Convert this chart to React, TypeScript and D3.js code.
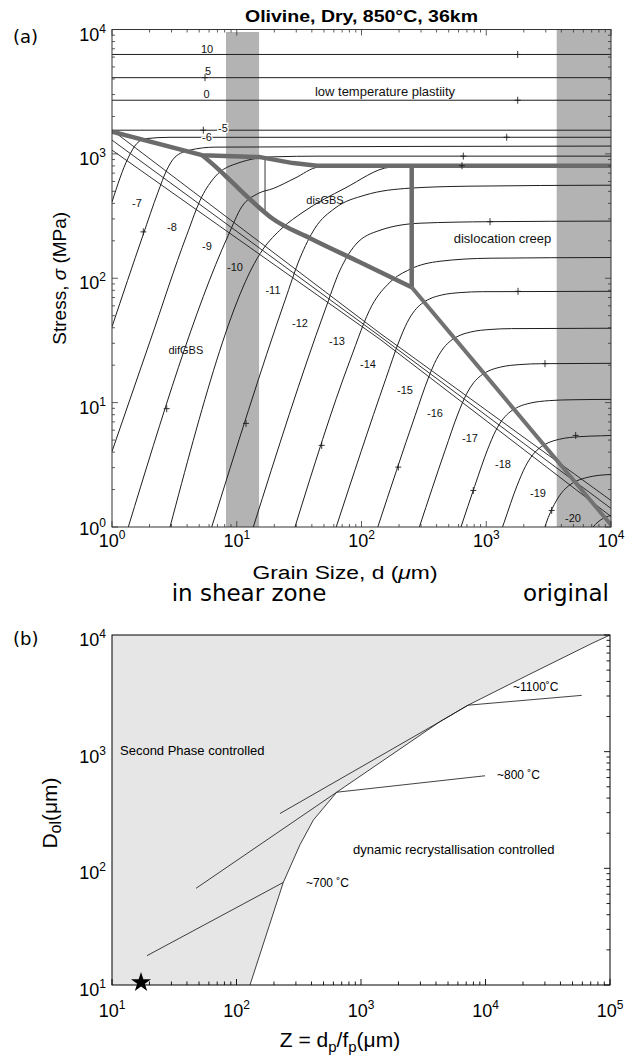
import React from 'react';
import * as d3 from 'd3';

type P = [number, number];

// ================= Panel (a) data =================
const titleA = 'Olivine, Dry, 850°C, 36km';
const decadesA = [1, 10, 100, 1000, 10000];

// low-temperature-plasticity contours (flat)
const ltpLevels = ['10', '5', '0', '-5'];
const ltpStress = [6300, 4100, 2700, 1550];

// strain-rate contours, [grain size µm, stress MPa]
const cM6: P[] = [[1, 411], [1.344, 924], [1.578, 1209], [1.873, 1327], [2.917, 1359], [10000, 1360]];
const cM7: P[] = [[1, 40.7], [1.772, 222], [2.337, 492], [2.745, 740], [3.199, 942], [4.22, 1072], [6.69, 1133], [10000, 1155]];
const cM8: P[] = [[1, 4.05], [2.017, 31.1], [3.97, 222], [5.24, 451], [6.69, 654], [10.23, 843], [19.5, 947], [46.5, 959], [10000, 959]];
const cM9: P[] = [[1.351, 1], [8.556, 222], [10.96, 375], [14.89, 481], [19.63, 527], [29.3, 638], [44.8, 782], [73.8, 804], [10000, 804]];
const cM10: P[] = [[2.917, 1], [16.23, 171], [23.05, 252.6], [33.97, 340], [73.8, 530], [169.2, 782], [294, 804], [10000, 804]];
const cM11: P[] = [[6.3, 1], [24.37, 66.5], [32.1, 145], [42.4, 253], [61.3, 366], [106.7, 466], [244.8, 530], [741, 550], [10000, 560]];
const cM12: P[] = [[13.57, 1], [50.97, 55.3], [67.2, 116], [88.7, 184], [140.7, 243], [294, 277], [1072, 285], [10000, 288]];
const cM13: P[] = [[29.3, 1], [80.9, 21.9], [121.4, 60.6], [169.2, 92.9], [244.8, 118.1], [425.9, 137], [1072, 144.9], [10000, 146.8]];
const cM14: P[] = [[62.7, 1], [157.1, 15.67], [200.3, 31.26], [232.6, 44.16], [266.9, 54.95], [302.9, 62.37], [353.2, 68.39], [438.4, 73.28], [625.4, 76.74], [930.4, 77.98], [10000, 78.52]];
const cM15: P[] = [[135.1, 1], [269.6, 7.907], [343.5, 15.78], [398.9, 22.28], [457.8, 27.73], [519.6, 31.48], [605.7, 34.51], [751.7, 36.98], [1072, 38.73], [1595, 39.36], [10000, 39.63]];
const cM16: P[] = [[291.1, 1], [467.7, 4.13], [596.2, 8.241], [692.1, 11.64], [794.3, 14.49], [901.8, 16.44], [1051, 18.03], [1305, 19.32], [1861, 20.23], [2769, 20.56], [10000, 20.7]];
const cM17: P[] = [[627.2, 1], [806.5, 2.118], [1028, 4.227], [1193, 5.97], [1369, 7.43], [1555, 8.433], [1812, 9.247], [2250, 9.908], [3210, 10.38], [4774, 10.54], [10000, 10.62]];
const cM18: P[] = [[1351, 1], [1390, 1.086], [1772, 2.168], [2058, 3.062], [2362, 3.811], [2681, 4.325], [3125, 4.742], [3879, 5.082], [5534, 5.321], [8231, 5.408], [10000, 5.445]];
const cM19: P[] = [[2951, 1], [3022, 1.074], [3510, 1.517], [4027, 1.888], [4573, 2.143], [5328, 2.35], [6614, 2.518], [9437, 2.636], [10000, 2.642]];
const cM20: P[] = [[7172, 1], [7882, 1.099], [9189, 1.205], [10000, 1.239]];
const contoursA = [cM6, cM7, cM8, cM9, cM10, cM11, cM12, cM13, cM14, cM15, cM16, cM17, cM18, cM19, cM20];

// mechanism boundaries (thick grey)
const thickLTP: P[] = [[1, 1511], [5.265, 977], [15.36, 942], [28.24, 843], [43.99, 804], [10000, 804]];
const thickGBS: P[] = [[5.265, 977], [6.69, 797], [8.83, 615], [12.77, 432], [19.17, 304], [38.66, 209.8], [97.3, 134.5], [252.6, 84.7]];
const thickVert: P[] = [[252.6, 84.7], [252.6, 804]];
const thickDisl: P[] = [[252.6, 84.7], [10000, 1.04]];
const thinVert: P[] = [[16.85, 940], [16.85, 340]];

// three thin field-boundary lines
const diagU: P[] = [[1, 1553], [140.7, 36.1], [10000, 1.634]];
const diagM: P[] = [[1, 1290], [140.7, 34.14], [10000, 1.41]];
const diagL: P[] = [[1, 1072], [140.7, 32.3], [10000, 1.215]];

// grey bands (grain size ranges)
const bandLeft = [8.2, 15.1];
const bandLeftTop = 9550;
const bandRight = [3670, 10000];

// "+" markers on contours
const plusMarks: P[] = [[1787, 6300], [5.566, 4100], [1787, 2700], [5.394, 1550], [1459, 1360], [654.6, 959], [639, 804],
  [1.782, 236], [2.745, 8.94], [11.86, 6.81], [47.97, 4.53], [197.2, 3.03], [787.4, 1.967], [3346, 1.358],
  [2957, 20.58], [5212, 5.45], [1072, 285], [1797, 78.5]];

// contour labels
const cLabelText = ['10', '5', '0', '-5', '-6', '-7', '-8', '-9', '-10', '-11', '-12', '-13', '-14', '-15', '-16', '-17', '-18', '-19', '-20'];
const cLabelD = [5.775, 5.88, 5.74, 7.76, 5.775, 1.586, 3.027, 5.775, 9.683, 19.53, 32.14, 63.6, 112.7, 223.2, 388.4, 740.7, 1362, 2599, 4959];
const cLabelS = [6966, 4661, 3009, 1602, 1357, 401.5, 259.7, 180.9, 122.6, 80.8, 43.7, 31.1, 20.58, 12.55, 8.195, 5.203, 3.184, 1.861, 1.171];

// region labels
const regionText = ['low temperature plastiity', 'disGBS', 'dislocation creep', 'difGBS'];
const regionD = [154.3, 50.98, 1350, 3.906];
const regionS = [3163, 424.5, 208.7, 26.34];
const regionSize = [13, 11, 13, 11];

// ================= Panel (b) data =================
const xDecB = [10, 100, 1000, 10000, 100000];
const yDecB = [10, 100, 1000, 10000];
const boundaryB: P[] = [[128.3, 10], [237.6, 75.7], [323.6, 159.4], [414, 259.1], [638, 449.1], [4310, 1809], [7235, 2502], [21430, 4482], [73030, 8561], [100000, 10000]];
const line1100: P[] = [[223.6, 295.1], [4310, 1809], [7235, 2502], [59260, 3038]];
const line800: P[] = [[47.3, 67.4], [638, 449.1], [9908, 621.4]];
const line700: P[] = [[19.1, 17.84], [237.6, 75.7]];
const starPoint: P = [17.1, 10.5];

const SANS = "'Liberation Sans', Arial, Helvetica, sans-serif";
const DEJAVU = "'DejaVu Sans', Verdana, sans-serif";

export default function App() {
  // ---- scales (a)
  const A = { l: 112, r: 611, t: 29.5, b: 527 };
  const xA = d3.scaleLog().domain([1, 1e4]).range([A.l, A.r]);
  const yA = d3.scaleLog().domain([1, 1e4]).range([A.b, A.t]);
  const linA = d3.line<P>().x(p => xA(p[0])).y(p => yA(p[1]));
  const curA = d3.line<P>().x(p => xA(p[0])).y(p => yA(p[1])).curve(d3.curveMonotoneX);

  // ---- scales (b)
  const B = { l: 112, r: 610, t: 635, b: 985 };
  const xB = d3.scaleLog().domain([10, 1e5]).range([B.l, B.r]);
  const yB = d3.scaleLog().domain([10, 1e4]).range([B.b, B.t]);
  const linB = d3.line<P>().x(p => xB(p[0])).y(p => yB(p[1]));

  const isMajor = (t: number) => Math.abs(Math.log10(t) - Math.round(Math.log10(t))) < 1e-9;
  const ticksXA = xA.ticks();
  const ticksYA = yA.ticks();
  const ticksXB = xB.ticks();
  const ticksYB = yB.ticks();

  const grayPoly: P[] = [[10, 10], ...boundaryB, [10, 1e4]];
  const star = d3.symbol().type(d3.symbolStar).size(125)();

  const lineCol = '#1e1e1e';
  const thickCol = '#6b6b6b';

  return (
    <svg width={638} height={1057} style={{ position: 'absolute', left: 0, top: 0 }} fontFamily={SANS}>
      <rect x={0} y={0} width={638} height={1057} fill="#fff" />
      <defs>
        <clipPath id="clipA"><rect x={A.l} y={A.t} width={A.r - A.l} height={A.b - A.t} /></clipPath>
        <clipPath id="clipB"><rect x={B.l} y={B.t} width={B.r - B.l} height={B.b - B.t} /></clipPath>
      </defs>

      {/* ================= Panel (a) ================= */}
      <text x={361.5} y={21.5} textAnchor="middle" fontWeight="bold" fontSize={16.5} textLength={233} lengthAdjust="spacingAndGlyphs">{titleA}</text>
      <text x={13} y={43} fontFamily={DEJAVU} fontSize={18}>(a)</text>

      <g clipPath="url(#clipA)">
        <rect x={xA(bandLeft[0])} y={yA(bandLeftTop)} width={xA(bandLeft[1]) - xA(bandLeft[0])} height={A.b - yA(bandLeftTop)} fill="#b3b3b3" />
        <rect x={xA(bandRight[0])} y={A.t} width={xA(bandRight[1]) - xA(bandRight[0])} height={A.b - A.t} fill="#b3b3b3" />

        {ltpStress.map((s, i) => (
          <path key={'ltp' + i} d={linA([[1, s], [1e4, s]]) || ''} stroke={lineCol} strokeWidth={1} fill="none" />
        ))}
        {contoursA.map((c, i) => (
          <path key={'c' + i} d={curA(c) || ''} stroke={lineCol} strokeWidth={1} fill="none" />
        ))}
        {[diagU, diagM, diagL].map((c, i) => (
          <path key={'dg' + i} d={linA(c) || ''} stroke={lineCol} strokeWidth={0.9} fill="none" />
        ))}
        <path d={linA(thinVert) || ''} stroke={lineCol} strokeWidth={0.9} fill="none" />

        <path d={linA(thickLTP) || ''} stroke={thickCol} strokeWidth={4.5} fill="none" strokeLinejoin="round" />
        <path d={curA(thickGBS) || ''} stroke={thickCol} strokeWidth={4.5} fill="none" strokeLinejoin="round" />
        <path d={linA(thickVert) || ''} stroke={thickCol} strokeWidth={4.5} fill="none" />
        <path d={linA(thickDisl) || ''} stroke="#727272" strokeWidth={4} fill="none" />

        {plusMarks.map((p, i) => {
          const x = xA(p[0]), y = yA(p[1]);
          return <path key={'pm' + i} d={`M${x - 3},${y}H${x + 3}M${x},${y - 3.5}V${y + 3.5}`} stroke={lineCol} strokeWidth={0.9} />;
        })}
      </g>

      {cLabelText.map((t, i) => (
        <text key={'cl' + i} x={xA(cLabelD[i])} y={yA(cLabelS[i])} fontSize={11} textAnchor="middle" dominantBaseline="central"
          stroke={i === 3 || i === 4 ? '#fff' : 'none'} strokeWidth={i === 3 || i === 4 ? 2.5 : 0} paintOrder="stroke" fill="#111">{t}</text>
      ))}
      {regionText.map((t, i) => (
        <text key={'rg' + i} x={xA(regionD[i])} y={yA(regionS[i])} fontSize={regionSize[i]} textAnchor="middle" dominantBaseline="central" fill="#111">{t}</text>
      ))}

      {/* frame + ticks (a) */}
      <rect x={A.l} y={A.t} width={A.r - A.l} height={A.b - A.t} fill="none" stroke="#333" strokeWidth={1} />
      {ticksXA.map((t, i) => {
        const x = xA(t); const L = isMajor(t) ? 6 : 3;
        return <g key={'txa' + i} stroke="#333" strokeWidth={0.8}>
          <line x1={x} x2={x} y1={A.b} y2={A.b - L} />
          <line x1={x} x2={x} y1={A.t} y2={A.t + L} />
        </g>;
      })}
      {ticksYA.map((t, i) => {
        const y = yA(t); const L = isMajor(t) ? 6 : 3;
        return <g key={'tya' + i} stroke="#333" strokeWidth={0.8}>
          <line x1={A.l} x2={A.l + L} y1={y} y2={y} />
          <line x1={A.r} x2={A.r - L} y1={y} y2={y} />
        </g>;
      })}
      {decadesA.map((t, i) => (
        <text key={'lxa' + i} x={xA(t)} y={A.b + 20} textAnchor="middle" fontSize={18}>10<tspan dy={-8} fontSize={12}>{Math.round(Math.log10(t))}</tspan></text>
      ))}
      {decadesA.map((t, i) => (
        <text key={'lya' + i} x={106} y={yA(t) + (i === 0 ? 8 : 11)} textAnchor="end" fontSize={18}>10<tspan dy={-8} fontSize={12}>{Math.round(Math.log10(t))}</tspan></text>
      ))}
      <text x={345} y={579} textAnchor="middle" fontSize={18} textLength={185} lengthAdjust="spacingAndGlyphs">Grain Size, d (<tspan fontStyle="italic">μ</tspan>m)</text>
      <text transform={`translate(66,${(A.t + A.b) / 2}) rotate(-90)`} textAnchor="middle" fontSize={19}>Stress, <tspan fontStyle="italic">σ</tspan> (MPa)</text>

      <text x={249} y={601} textAnchor="middle" fontFamily={DEJAVU} fontSize={23}>in shear zone</text>
      <text x={566} y={601} textAnchor="middle" fontFamily={DEJAVU} fontSize={23}>original</text>

      {/* ================= Panel (b) ================= */}
      <text x={13} y={645} fontFamily={DEJAVU} fontSize={18}>(b)</text>
      <g clipPath="url(#clipB)">
        <path d={(linB(grayPoly) || '') + 'Z'} fill="#e6e6e6" stroke="none" />
        <path d={linB(boundaryB) || ''} stroke="#111" strokeWidth={0.8} fill="none" />
        <path d={linB(line1100) || ''} stroke="#111" strokeWidth={0.8} fill="none" />
        <path d={linB(line800) || ''} stroke="#111" strokeWidth={0.8} fill="none" />
        <path d={linB(line700) || ''} stroke="#111" strokeWidth={0.8} fill="none" />
      </g>
      <rect x={B.l} y={B.t} width={B.r - B.l} height={B.b - B.t} fill="none" stroke="#000" strokeWidth={1} />
      {ticksXB.map((t, i) => {
        const x = xB(t); const L = isMajor(t) ? 6 : 3.5;
        return <line key={'txb' + i} x1={x} x2={x} y1={B.b} y2={B.b - L} stroke="#000" strokeWidth={0.9} />;
      })}
      {ticksYB.map((t, i) => {
        const y = yB(t); const L = isMajor(t) ? 6 : 3.5;
        return <line key={'tyb' + i} x1={B.r} x2={B.r - L} y1={y} y2={y} stroke="#000" strokeWidth={0.9} />;
      })}
      <path d={star || ''} transform={`translate(${xB(starPoint[0])},${yB(starPoint[1])})`} fill="#000" />

      <text x={120} y={755} fontSize={13}>Second Phase controlled</text>
      <text x={353} y={854} fontSize={13}>dynamic recrystallisation controlled</text>
      <text x={513} y={691} fontSize={12}>~1100˚C</text>
      <text x={497} y={779} fontSize={12}>~800 ˚C</text>
      <text x={306} y={887} fontSize={12}>~700 ˚C</text>

      {xDecB.map((t, i) => (
        <text key={'lxb' + i} x={xB(t)} y={B.b + 32} textAnchor="middle" fontSize={18}>10<tspan dy={-8} fontSize={12}>{Math.round(Math.log10(t))}</tspan></text>
      ))}
      {yDecB.map((t, i) => (
        <text key={'lyb' + i} x={106} y={yB(t) + 11} textAnchor="end" fontSize={18}>10<tspan dy={-8} fontSize={12}>{Math.round(Math.log10(t))}</tspan></text>
      ))}
      <text x={340} y={1047} textAnchor="middle" fontSize={21}>Z = d<tspan dy={5} fontSize={15}>p</tspan><tspan dy={-5}>/f</tspan><tspan dy={5} fontSize={15}>p</tspan><tspan dy={-5}>(μm)</tspan></text>
      <text transform={`translate(57,813) rotate(-90)`} textAnchor="middle" fontSize={21}>D<tspan dy={4} fontSize={16}>ol</tspan><tspan dy={-4}>(μm)</tspan></text>
    </svg>
  );
}
